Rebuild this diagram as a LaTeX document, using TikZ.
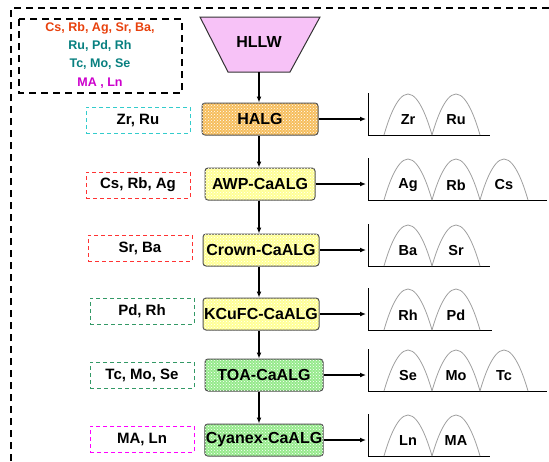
\documentclass[tikz,border=0pt]{standalone}
\usepackage{fontspec}
\setmainfont{Liberation Sans}
\usetikzlibrary{patterns,arrows.meta}

\definecolor{hllwpink}{HTML}{F7C2F7}
\definecolor{halgorange}{HTML}{F6BE5E}
\definecolor{cayellow}{HTML}{FFFF96}
\definecolor{cagreen}{HTML}{96EA8C}
\definecolor{legred}{HTML}{E8420E}
\definecolor{legteal}{HTML}{088080}
\definecolor{legmag}{HTML}{CC00CC}
\definecolor{boxcyan}{HTML}{33CCCC}
\definecolor{boxred}{HTML}{FF3333}
\definecolor{boxgreen}{HTML}{339966}
\definecolor{boxmag}{HTML}{FF00FF}

\tikzset{
  procbox/.style={draw=black!70, line width=1pt, rounded corners=3pt,
    minimum width=116pt, minimum height=32pt, inner sep=1pt,
    font=\fontsize{16}{18}\selectfont\bfseries,
    postaction={pattern=crosshatch dots, pattern color=white}},
  elembox/.style={line width=0.9pt, dash pattern=on 4pt off 3pt,
    minimum width=104pt, minimum height=26pt, inner sep=1pt,
    font=\fontsize{15}{17}\selectfont\bfseries},
  bigdash/.style={line width=1.6pt, dash pattern=on 7pt off 5pt},
  axisline/.style={line width=1pt},
  peak/.style={draw=gray!75, line width=0.8pt},
  peaklbl/.style={font=\fontsize{14.5}{16}\selectfont\bfseries, inner sep=0pt},
  leglbl/.style={font=\fontsize{12.5}{14}\selectfont\bfseries, inner sep=0pt},
  flow/.style={-{Latex[length=6pt,width=5pt]}, line width=1.3pt},
}

% one chromatogram: name, row y, end of baseline, peak labels
\newcommand{\chromrow}[4]{%
  \coordinate (#1) at (368,#2);
  \draw[axisline] (368,#2-26) -- (368,#2+16) -- (#3,#2+16);
  \foreach \lbl [count=\i] in {#4} {
    \pgfmathsetmacro{\px}{384+48*(\i-1)}
    \draw[peak] (\px,#2+16) parabola bend (\px+24,#2-25) (\px+48,#2+16);
    \node[peaklbl] (#1-\i) at (\px+24,#2+1) {\lbl};
  }
}

\begin{document}
\begin{tikzpicture}[x=1pt,y=-1pt]
  \useasboundingbox (0,0) rectangle (549,461);

  % Frame
  \draw[bigdash] (11,461) -- (11,8) -- (549,8);

  % Legend
  \draw[bigdash] (19,19) rectangle (182,93);
  \node[leglbl,text=legred] (leg1) at (100,28) {Cs, Rb, Ag, Sr, Ba,};
  \node[leglbl,text=legteal] (leg2) at (100,46) {Ru, Pd, Rh};
  \node[leglbl,text=legteal] (leg3) at (100,64) {Tc, Mo, Se};
  \node[leglbl,text=legmag] (leg4) at (100,83) {MA , Ln};

  % Feed
  \draw[draw=black!80, line width=1pt, fill=hllwpink]
    (200,17) -- (320,17) -- (290,72) -- (228,72) -- cycle;
  \node[font=\fontsize{16}{18}\selectfont\bfseries] (hllw) at (259,42) {HLLW};
  \coordinate (hllwbase) at (259,72);

  % Process columns
  \node[procbox,fill=halgorange] (halg) at (260,119) {HALG};
  \node[procbox,fill=cayellow,minimum width=110pt] (awp) at (260,184) {AWP-CaALG};
  \node[procbox,fill=cayellow] (crown) at (261,250) {Crown-CaALG};
  \node[procbox,fill=cayellow] (kcufc) at (261,314) {KCuFC-CaALG};
  \node[procbox,fill=cagreen,minimum width=118pt] (toa) at (264,375) {TOA-CaALG};
  \node[procbox,fill=cagreen,minimum width=118pt] (cyanex) at (264,440) {Cyanex-CaALG};

  % Flow down
  \draw[flow] (hllwbase) -- (hllwbase |- halg.north);
  \draw[flow] (hllwbase |- halg.south) -- (hllwbase |- awp.north);
  \draw[flow] (hllwbase |- awp.south) -- (hllwbase |- crown.north);
  \draw[flow] (hllwbase |- crown.south) -- (hllwbase |- kcufc.north);
  \draw[flow] (hllwbase |- kcufc.south) -- (hllwbase |- toa.north);
  \draw[flow] (hllwbase |- toa.south) -- (hllwbase |- cyanex.north);

  % Recovered elements
  \node[elembox,draw=boxcyan] (elhalg) at (138,120) {Zr, Ru};
  \node[elembox,draw=boxred] (elawp) at (138,185) {Cs, Rb, Ag};
  \node[elembox,draw=boxred] (elcrown) at (140,248) {Sr, Ba};
  \node[elembox,draw=boxgreen] (elkcufc) at (142,311) {Pd, Rh};
  \node[elembox,draw=boxgreen] (eltoa) at (142,375) {Tc, Mo, Se};
  \node[elembox,draw=boxmag] (elcyanex) at (142,439) {MA, Ln};

  % Chromatograms
  \chromrow{chhalg}{119}{490}{Zr,Ru}
  \chromrow{chawp}{184}{547}{Ag,Rb,Cs}
  \chromrow{chcrown}{250}{490}{Ba,Sr}
  \chromrow{chkcufc}{314}{492}{Rh,Pd}
  \chromrow{chtoa}{375}{547}{Se,Mo,Tc}
  \chromrow{chcyanex}{440}{490}{Ln,MA}

  \draw[flow,shorten >=2pt] (halg.east) -- (chhalg);
  \draw[flow,shorten >=2pt] (awp.east) -- (chawp);
  \draw[flow,shorten >=2pt] (crown.east) -- (chcrown);
  \draw[flow,shorten >=2pt] (kcufc.east) -- (chkcufc);
  \draw[flow,shorten >=2pt] (toa.east) -- (chtoa);
  \draw[flow,shorten >=2pt] (cyanex.east) -- (chcyanex);
\end{tikzpicture}
\end{document}
